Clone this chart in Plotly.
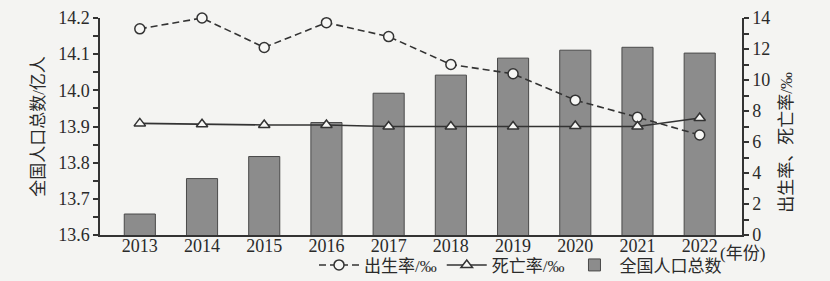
import plotly.graph_objects as go

years = ["2013", "2014", "2015", "2016", "2017", "2018", "2019", "2020", "2021", "2022"]
population = [13.658, 13.756, 13.817, 13.911, 13.992, 14.042, 14.089, 14.111, 14.119, 14.103]
birth_rate = [13.3, 14.0, 12.1, 13.7, 12.8, 11.0, 10.4, 8.7, 7.6, 6.45]
death_rate = [7.2, 7.15, 7.1, 7.1, 7.0, 7.0, 7.0, 7.03, 7.0, 7.55]

FONT = "Liberation Serif, Noto Sans CJK SC, serif"
DARK = "#333333"
tf = dict(family=FONT, size=18, color="#2a2a2a")

fig = go.Figure()
fig.add_trace(go.Bar(
    x=years, y=population, name="全国人口总数", width=0.5,
    marker=dict(color="#8c8c8c", line=dict(color="#4a4a4a", width=1)),
    legendrank=3, yaxis="y"))
fig.add_trace(go.Scatter(
    x=years, y=birth_rate, name="出生率/‰", mode="lines+markers", cliponaxis=False,
    line=dict(color=DARK, width=1.6, dash="7px,4px"),
    marker=dict(symbol="circle", size=10, color="#f7f7f5", line=dict(color=DARK, width=1.5)),
    legendrank=1, yaxis="y2"))
fig.add_trace(go.Scatter(
    x=years, y=death_rate, name="死亡率/‰", mode="lines+markers", cliponaxis=False,
    line=dict(color=DARK, width=1.6),
    marker=dict(symbol="triangle-up", size=10, color="#f7f7f5", line=dict(color=DARK, width=1.5)),
    legendrank=2, yaxis="y2"))

fig.update_layout(
    width=830, height=281,
    margin=dict(l=100, r=88, t=18, b=46, autoexpand=False),
    paper_bgcolor="#f4f4f2", plot_bgcolor="#f4f4f2",
    font=dict(family=FONT, size=18, color="#2a2a2a"),
    showlegend=True,
    legend=dict(orientation="h", x=0.655, xanchor="center", y=-0.14, yanchor="middle",
                font=dict(family=FONT, size=17), bgcolor="rgba(0,0,0,0)", traceorder="normal",
                itemwidth=40),
    xaxis=dict(type="category", range=[-0.64, 9.68], showline=True, linecolor=DARK,
               linewidth=1.5, ticks="", showgrid=False, zeroline=False,
               tickfont=tf, ticklabelstandoff=-6),
    yaxis=dict(range=[13.6, 14.2], dtick=0.1, tickformat=".1f", showline=True,
               linecolor=DARK, linewidth=1.5, ticks="outside", ticklen=5,
               tickcolor=DARK, tickwidth=1.5, showgrid=False, zeroline=False,
               minor=dict(dtick=0.05, ticks="outside", ticklen=5, tickcolor=DARK, tickwidth=1.5),
               tickfont=tf),
    yaxis2=dict(range=[0, 14], dtick=2, overlaying="y", side="right", showline=True,
                linecolor=DARK, linewidth=1.5, ticks="outside", ticklen=5,
                tickcolor=DARK, tickwidth=1.5, showgrid=False, zeroline=False,
                minor=dict(dtick=1, ticks="outside", ticklen=5, tickcolor=DARK, tickwidth=1.5),
                tickfont=tf),
    bargap=0.5,
)

fig.add_annotation(text="全国人口总数/亿人", xref="paper", yref="paper",
                   x=-0.096, y=0.5, textangle=-90, showarrow=False,
                   xanchor="center", yanchor="middle", font=dict(family=FONT, size=17))
fig.add_annotation(text="出生率、死亡率/‰", xref="paper", yref="paper",
                   x=1.07, y=0.43, textangle=-90, showarrow=False,
                   xanchor="center", yanchor="middle", font=dict(family=FONT, size=17))
fig.add_annotation(text="(年份)", xref="paper", yref="paper",
                   x=0.962, y=-0.085, showarrow=False,
                   xanchor="left", yanchor="middle", font=dict(family=FONT, size=17))

fig.write_html("out.html")
